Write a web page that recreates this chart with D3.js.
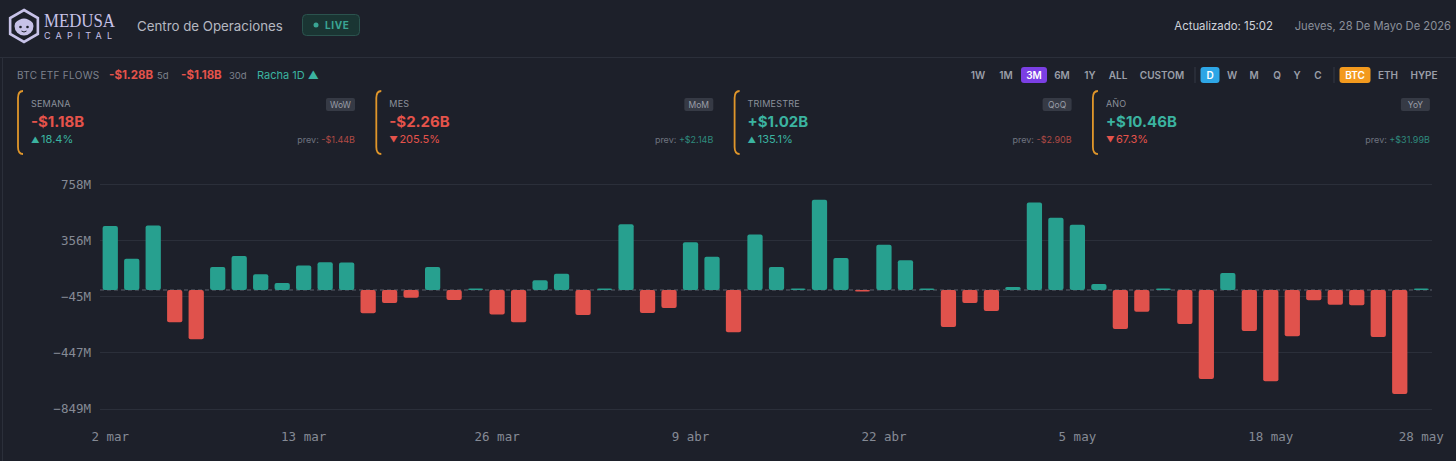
<!DOCTYPE html>
<html>
<head>
<meta charset="utf-8">
<script src="https://cdn.jsdelivr.net/npm/d3@7"></script>
<style>
html, body { margin: 0; padding: 0; background: #1d202a; }
svg { display: block; font-family: Inter, "Noto Sans", sans-serif; }
</style>
</head>
<body>
<script>
// daily BTC ETF net flows, millions USD (trading days only)
const days = [
  "2 mar","3 mar","4 mar","5 mar","6 mar","9 mar","10 mar","11 mar","12 mar","13 mar",
  "16 mar","17 mar","18 mar","19 mar","20 mar","23 mar","24 mar","25 mar","26 mar","27 mar",
  "30 mar","31 mar","1 abr","2 abr","6 abr","7 abr","8 abr","9 abr","10 abr","13 abr",
  "14 abr","15 abr","16 abr","17 abr","20 abr","21 abr","22 abr","23 abr","24 abr","27 abr",
  "28 abr","29 abr","30 abr","1 may","4 may","5 may","6 may","7 may","8 may","11 may",
  "12 may","13 may","14 may","15 may","18 may","19 may","20 may","21 may","22 may","26 may",
  "27 may","28 may"
];
const flows = [
  458, 224, 462, -231, -353, 164, 243, 112, 50, 176,
  198, 196, -167, -93, -55, 164, -72, 6, -176, -231,
  69, 117, -179, 6, 470, -164, -129, 341, 238, -303,
  396, 164, 10, 646, 229, -8, 324, 212, 5, -265,
  -93, -150, 21, 625, 517, 467, 43, -279, -155, 4,
  -243, -637, 122, -293, -653, -331, -74, -105, -110, -336,
  -744, 4
];
const tickDays = ["2 mar","13 mar","26 mar","9 abr","22 abr","5 may","18 may","28 may"];
const yTicks = [758, 356, -45, -447, -849];

// summary cards
const cardLabels = ["SEMANA", "MES", "TRIMESTRE", "AÑO"];
const cardBadges = ["WoW", "MoM", "QoQ", "YoY"];
const cardValues = ["-$1.18B", "-$2.26B", "+$1.02B", "+$10.46B"];
const cardChanges = ["18.4%", "205.5%", "135.1%", "67.3%"];
const cardChangeUp = [true, false, true, false];
const cardPrev = ["-$1.44B", "+$2.14B", "-$2.90B", "+$31.99B"];

// toolbar
const rangeButtons = ["1W", "1M", "3M", "6M", "1Y", "ALL", "CUSTOM"];
const intervalButtons = ["D", "W", "M", "Q", "Y", "C"];
const assetButtons = ["BTC", "ETH", "HYPE"];

const W = 1456, H = 461;
const TEAL = "#27a08f", RED = "#e0524c", TEAL_T = "#3bb3a0", RED_T = "#e5534b";
const GREY = "#8b909b";

const svg = d3.select("body").append("svg").attr("width", W).attr("height", H);
svg.append("rect").attr("width", W).attr("height", H).attr("fill", "#1d202a");

// panel borders
svg.append("line").attr("x1", 0).attr("x2", W).attr("y1", 57.5).attr("y2", 57.5).attr("stroke", "#2b2f3a");
svg.append("line").attr("x1", 2.5).attr("x2", 2.5).attr("y1", 57.5).attr("y2", H).attr("stroke", "#2b2f3a");

// ---- header ----
const logo = svg.append("g").attr("transform", "translate(24,26)");
const hex = d3.range(6).map(i => {
  const a = Math.PI / 3 * i - Math.PI / 2;
  return [Math.cos(a) * 16, Math.sin(a) * 16];
});
logo.append("path").attr("d", "M" + hex.join("L") + "Z")
  .attr("fill", "none").attr("stroke", "#c7c2e8").attr("stroke-width", 2.6);
logo.append("circle").attr("r", 9.5).attr("fill", "#c7c2e8");
logo.append("path").attr("d", "M-9,-3 Q0,-12 9,-3 L9,-6 Q0,-16 -9,-6Z").attr("fill", "#1d202a");
logo.append("circle").attr("cx", -3.5).attr("cy", 1).attr("r", 1.3).attr("fill", "#1d202a");
logo.append("circle").attr("cx", 3.5).attr("cy", 1).attr("r", 1.3).attr("fill", "#1d202a");
logo.append("path").attr("d", "M-2.5,5 Q0,7 2.5,5").attr("fill", "none").attr("stroke", "#1d202a").attr("stroke-width", 1);

svg.append("text").attr("x", 44).attr("y", 27).text("MEDUSA")
  .attr("font-family", "'Liberation Serif', 'DejaVu Serif', serif")
  .attr("font-size", 18).attr("fill", "#c7c2e8")
  .attr("textLength", 71).attr("lengthAdjust", "spacingAndGlyphs");
svg.append("text").attr("x", 44).attr("y", 39).text("CAPITAL")
  .attr("font-size", 9).attr("fill", "#c7c2e8")
  .attr("textLength", 68).attr("lengthAdjust", "spacing");

svg.append("text").attr("x", 137).attr("y", 30.5).text("Centro de Operaciones")
  .attr("font-size", 13.3).attr("fill", "#b5b8c1");

svg.append("rect").attr("x", 302.5).attr("y", 14.5).attr("width", 57).attr("height", 21).attr("rx", 4)
  .attr("fill", "#1a3533").attr("stroke", "#2b534e");
svg.append("circle").attr("cx", 316).attr("cy", 25).attr("r", 2.5).attr("fill", "#3aa594");
svg.append("text").attr("x", 325).attr("y", 29).text("LIVE")
  .attr("font-size", 10).attr("font-weight", 700).attr("fill", "#3aa594").attr("letter-spacing", 0.6);

svg.append("text").attr("x", 1273).attr("y", 30).attr("text-anchor", "end")
  .text("Actualizado: 15:02").attr("font-size", 11.4).attr("fill", "#d0d3da");
svg.append("text").attr("x", 1451).attr("y", 30).attr("text-anchor", "end")
  .text("Jueves, 28 De Mayo De 2026").attr("font-size", 11.2).attr("fill", GREY);

// ---- flows summary row ----
const row = svg.append("text").attr("y", 79).attr("font-size", 10);
row.append("tspan").attr("x", 17).text("BTC ETF FLOWS").attr("fill", "#7d828d").attr("letter-spacing", 0.3);
row.append("tspan").attr("x", 109).text("-$1.28B").attr("fill", RED_T).attr("font-weight", 700).attr("font-size", 11.5);
row.append("tspan").attr("x", 157).text("5d").attr("fill", "#7d828d").attr("font-size", 9.5);
row.append("tspan").attr("x", 181).text("-$1.18B").attr("fill", RED_T).attr("font-weight", 700).attr("font-size", 11.5);
row.append("tspan").attr("x", 229).text("30d").attr("fill", "#7d828d").attr("font-size", 9.5);
row.append("tspan").attr("x", 257).text("Racha 1D ▲").attr("fill", TEAL_T).attr("font-size", 11);

// toolbar buttons
const rangeX = [978, 1006, 1034, 1062, 1090, 1118, 1162];
const intervalX = [1210, 1232, 1254, 1277, 1297, 1318];
const assetX = [1355, 1388, 1424];
function buttons(labels, xs, active, color, w) {
  const g = svg.append("g");
  labels.forEach((l, i) => {
    if (l === active) {
      g.append("rect").attr("x", xs[i] - w / 2).attr("y", 67).attr("width", w).attr("height", 16)
        .attr("rx", 3).attr("fill", color);
    }
    g.append("text").attr("x", xs[i]).attr("y", 79).attr("text-anchor", "middle").text(l)
      .attr("font-size", 10).attr("font-weight", 600)
      .attr("fill", l === active ? "#ffffff" : "#9a9ea8");
  });
}
buttons(rangeButtons, rangeX, "3M", "#7b3fe4", 26);
buttons(intervalButtons, intervalX, "D", "#2ea6e6", 19);
buttons(assetButtons, assetX, "BTC", "#f39a1e", 31);
[1195, 1334].forEach(x => svg.append("line").attr("x1", x).attr("x2", x).attr("y1", 67).attr("y2", 83)
  .attr("stroke", "#353945"));

// ---- cards ----
cardLabels.forEach((lab, i) => {
  const x0 = 18 + i * 358.3, right = x0 + 337;
  const g = svg.append("g");
  g.append("path")
    .attr("d", `M${x0 + 5},91 Q${x0},91 ${x0},98 L${x0},147 Q${x0},154 ${x0 + 5},154`)
    .attr("fill", "none").attr("stroke", "#e0962a").attr("stroke-width", 1.8);
  g.append("text").attr("x", x0 + 13).attr("y", 107).text(lab).attr("font-size", 9).attr("fill", GREY)
    .attr("letter-spacing", 0.2);
  g.append("rect").attr("x", right - 29).attr("y", 98).attr("width", 29).attr("height", 13).attr("rx", 2)
    .attr("fill", "#363a45");
  g.append("text").attr("x", right - 14.5).attr("y", 107.5).attr("text-anchor", "middle").text(cardBadges[i])
    .attr("font-size", 8.5).attr("fill", "#9a9ea8");
  const pos = cardValues[i][0] === "+";
  g.append("text").attr("x", x0 + 13).attr("y", 126.5).text(cardValues[i])
    .attr("font-size", 15).attr("font-weight", 700).attr("fill", pos ? TEAL_T : RED_T);
  const ch = g.append("text").attr("x", x0 + 13).attr("y", 143).attr("font-size", 11)
    .attr("fill", cardChangeUp[i] ? TEAL_T : RED_T);
  ch.append("tspan").text(cardChangeUp[i] ? "▲" : "▼").attr("font-size", 8.5).attr("dx", 0);
  ch.append("tspan").text(cardChanges[i]).attr("dx", 1.5);
  const pv = g.append("text").attr("x", right).attr("y", 143).attr("text-anchor", "end").attr("font-size", 9);
  pv.append("tspan").text("prev: ").attr("fill", "#6f7480");
  pv.append("tspan").text(cardPrev[i]).attr("fill", cardPrev[i][0] === "+" ? "#2f8a7d" : "#b04a45");
});

// ---- chart ----
const x = d3.scaleBand().domain(days).range([99.5, 1432]).paddingInner(0.29).paddingOuter(0.145);
const y = d3.scaleLinear().domain([-849, 758]).range([408.7, 184]);

svg.append("g").selectAll("line").data(yTicks).join("line")
  .attr("x1", 100).attr("x2", 1432)
  .attr("y1", d => Math.round(y(d)) + 0.5).attr("y2", d => Math.round(y(d)) + 0.5)
  .attr("stroke", "#2b2f3a");

svg.append("line").attr("x1", 100).attr("x2", 1432).attr("y1", y(0)).attr("y2", y(0))
  .attr("stroke", "#5d626d").attr("stroke-dasharray", "4,3");

svg.append("g").selectAll("rect").data(flows).join("rect")
  .attr("x", (d, i) => x(days[i]))
  .attr("width", x.bandwidth())
  .attr("y", d => d >= 0 ? Math.min(y(d), y(0) - 1.5) : y(0))
  .attr("height", d => Math.max(Math.abs(y(d) - y(0)), 1.5))
  .attr("rx", 2)
  .attr("fill", d => d >= 0 ? TEAL : RED);

const fmt = d3.format(".0f");
const yAxis = svg.append("g").attr("transform", "translate(94,0)")
  .call(d3.axisLeft(y).tickValues(yTicks).tickSize(0).tickPadding(3).tickFormat(d => fmt(d) + "M"));
const xAxis = svg.append("g").attr("transform", "translate(0,432)")
  .call(d3.axisBottom(x).tickValues(tickDays).tickSize(0).tickPadding(0));
[yAxis, xAxis].forEach(a => {
  a.select(".domain").remove();
  a.selectAll("text").attr("font-family", "'DejaVu Sans Mono', monospace")
    .attr("font-size", 12.5).attr("fill", "#858a95");
});
</script>
</body>
</html>
